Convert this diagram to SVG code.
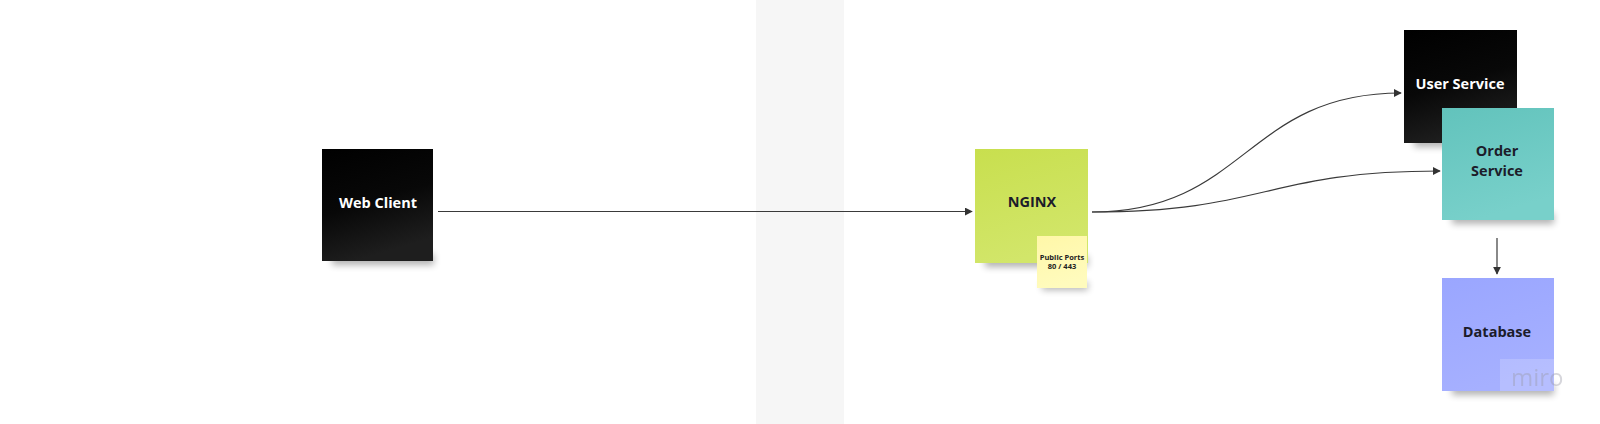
<svg xmlns="http://www.w3.org/2000/svg" width="1600" height="424" viewBox="0 0 1600 424">
  <style>
    .lbl { font-family: "Open Sans", "Noto Sans", "Liberation Sans", sans-serif; font-weight: 700; font-size: 14.5px; text-anchor: middle; dominant-baseline: central; }
    .light { fill: #ffffff; }
    .dark { fill: #1c1c2a; }
    .small { font-size: 7.5px; fill: #222222; }
    .conn { fill: none; stroke: #3a3a3a; stroke-width: 1.2; marker-end: url(#arrow); }
    .shadow { fill: #000000; opacity: 0.3; filter: url(#blur); }
  </style>
  <defs>
    <marker id="arrow" viewBox="0 0 10 10" refX="9" refY="5" markerWidth="8" markerHeight="8" markerUnits="userSpaceOnUse" orient="auto">
      <path d="M0,0 L10,5 L0,10 z" fill="#333333"/>
    </marker>
    <filter id="blur" x="-20%" y="-100%" width="140%" height="300%">
      <feGaussianBlur stdDeviation="3.5"/>
    </filter>
    <linearGradient id="gBlack" x1="0" y1="0" x2="0.3" y2="1">
      <stop offset="0" stop-color="#000000"/>
      <stop offset="0.55" stop-color="#080808"/>
      <stop offset="1" stop-color="#1e1e1e"/>
    </linearGradient>
    <linearGradient id="gGreen" x1="0" y1="0" x2="0.3" y2="1">
      <stop offset="0" stop-color="#c8df4e"/>
      <stop offset="1" stop-color="#d2e66a"/>
    </linearGradient>
    <linearGradient id="gTeal" x1="0" y1="0" x2="0.3" y2="1">
      <stop offset="0" stop-color="#62c3bc"/>
      <stop offset="1" stop-color="#78d0ca"/>
    </linearGradient>
    <linearGradient id="gBlue" x1="0" y1="0" x2="0.3" y2="1">
      <stop offset="0" stop-color="#9aa6ff"/>
      <stop offset="1" stop-color="#a6b0ff"/>
    </linearGradient>
    <linearGradient id="gYellow" x1="0" y1="0" x2="0.3" y2="1">
      <stop offset="0" stop-color="#fff7a8"/>
      <stop offset="1" stop-color="#fffbbd"/>
    </linearGradient>
  </defs>

  <rect x="0" y="0" width="1600" height="424" fill="#ffffff"/>
  <rect x="756" y="0" width="88" height="424" fill="#f6f6f6"/>

  <g id="connectors">
    <path class="conn" d="M438,211.5 L972,211.5"/>
    <path class="conn" d="M1092,212 C1246,212 1246,93 1401,93"/>
    <path class="conn" d="M1092,212 C1266,212 1266,171 1440,171"/>
    <path class="conn" d="M1497,238 L1497,274"/>
  </g>

  <g id="web-client">
    <rect class="shadow" x="332" y="254" width="102" height="11"/>
    <rect x="322" y="149" width="111" height="112" fill="url(#gBlack)"/>
    <text class="lbl light" x="378" y="202">Web Client</text>
  </g>

  <g id="nginx">
    <rect class="shadow" x="985" y="256" width="103" height="11"/>
    <rect x="975" y="149" width="113" height="114" fill="url(#gGreen)"/>
    <text class="lbl dark" x="1032" y="201">NGINX</text>
  </g>

  <g id="public-ports">
    <rect class="shadow" x="1042" y="282" width="46" height="8"/>
    <rect x="1037" y="236" width="50" height="52" fill="url(#gYellow)"/>
    <text class="lbl small" x="1062" y="257">Public Ports</text>
    <text class="lbl small" x="1062" y="266">80 / 443</text>
  </g>

  <g id="user-service">
    <rect class="shadow" x="1414" y="136" width="102" height="11"/>
    <rect x="1404" y="30" width="113" height="113" fill="url(#gBlack)"/>
    <text class="lbl light" x="1460" y="83">User Service</text>
  </g>

  <g id="order-service">
    <rect class="shadow" x="1452" y="213" width="102" height="11"/>
    <rect x="1442" y="108" width="112" height="112" fill="url(#gTeal)"/>
    <text class="lbl dark" x="1497" y="150">Order</text>
    <text class="lbl dark" x="1497" y="170">Service</text>
  </g>

  <g id="database">
    <rect class="shadow" x="1452" y="384" width="102" height="11"/>
    <rect x="1442" y="278" width="112" height="113" fill="url(#gBlue)"/>
    <text class="lbl dark" x="1497" y="331">Database</text>
  </g>

  <g id="watermark">
    <rect x="1500" y="359" width="55" height="32" fill="#ffffff" opacity="0.18"/>
    <text x="1511" y="386" font-family="'Open Sans', 'Noto Sans', sans-serif" font-size="24" fill="#9a9aa8" opacity="0.4">miro</text>
  </g>
</svg>
